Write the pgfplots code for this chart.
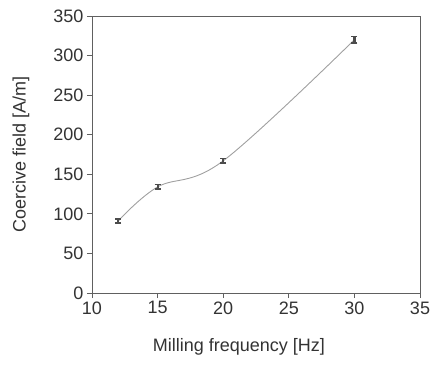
\documentclass[border=0pt]{standalone}
\usepackage{pgfplots}
\pgfplotsset{compat=1.18}
\usepackage{fontspec}
\setmainfont{Liberation Sans}
\definecolor{axgray}{HTML}{606060}
\definecolor{txtgray}{HTML}{333333}
\definecolor{linegray}{HTML}{A0A0A0}
\begin{document}
\begin{tikzpicture}
\useasboundingbox (-92pt,-71pt) rectangle (343pt,293pt);
\begin{axis}[
  scale only axis,
  width=328pt, height=277pt,
  xmin=10, xmax=35, ymin=0, ymax=350,
  xtick={10,15,20,25,30,35},
  ytick={0,50,100,150,200,250,300,350},
  tick align=outside,
  tick pos=left,
  major tick length=5pt,
  axis line style={axgray, line width=0.9pt},
  every tick/.style={axgray, line width=0.9pt},
  tick label style={font=\fontsize{18}{20}\selectfont, text=txtgray},
  label style={font=\fontsize{18}{20}\selectfont, text=txtgray},
  /pgf/number format/assume math mode=true,
  xlabel={Milling frequency [Hz]},
  ylabel={Coercive field [A/m]},
  xlabel style={at={(axis description cs:0.448,-0.21)}, anchor=base},
  ylabel style={at={(axis description cs:-0.2165,0.5)}, anchor=center},
]
\addplot[linegray, line width=0.9pt, smooth, tension=0.6, mark=none,
  error bars/.cd, y dir=both, y explicit,
  error bar style={line width=2.2pt, draw=black!70},
  error mark options={rotate=90, mark size=3pt, line width=1.8pt, draw=black!70}]
  coordinates {
  (12,91) +- (0,3)
  (15,134) +- (0,3)
  (20,167) +- (0,3)
  (30,320) +- (0,4)
};
\end{axis}
\end{tikzpicture}
\end{document}
